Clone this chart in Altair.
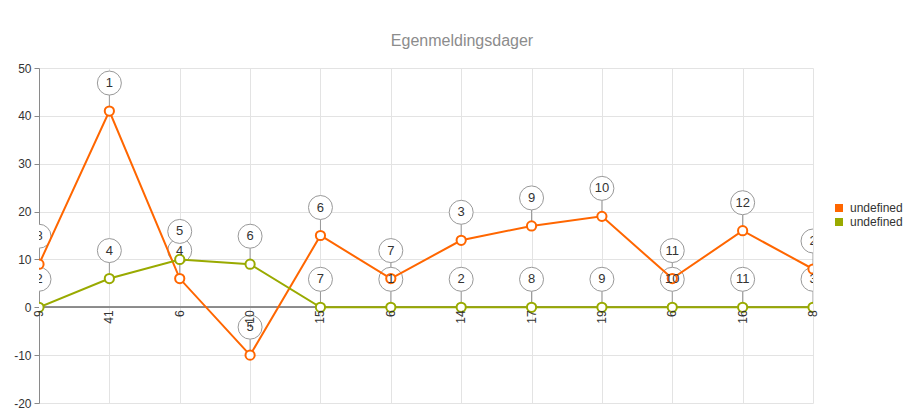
import altair as alt
import pandas as pd

categories = ["9", "41", "6", "-10", "15", "6", "14", "17", "19", "6", "16", "8"]
orange_values = [9, 41, 6, -10, 15, 6, 14, 17, 19, 6, 16, 8]
green_values = [0, 6, 10, 9, 0, 0, 0, 0, 0, 0, 0, 0]
orange_labels = [8, 1, 4, 5, 6, 7, 3, 9, 10, 11, 12, 2]
green_labels = [2, 4, 5, 6, 7, 1, 2, 8, 9, 10, 11, 3]
series_names = ["A", "B"]
legend_names = ["undefined", "undefined\u200b"]
series_colors = ["#ff6600", "#99aa00"]

rows = []
for i, c in enumerate(categories):
    rows.append({"idx": i, "cat": c, "value": orange_values[i], "label": str(orange_labels[i]),
                 "series": series_names[0], "leg": legend_names[0]})
for i, c in enumerate(categories):
    rows.append({"idx": i, "cat": c, "value": green_values[i], "label": str(green_labels[i]),
                 "series": series_names[1], "leg": legend_names[1]})
df = pd.DataFrame(rows)
cat_df = pd.DataFrame({"idx": list(range(len(categories))), "cat": categories})

FONT = "Liberation Sans"

x_enc = alt.X("idx:Q", scale=alt.Scale(domain=[0, len(categories) - 1], nice=False, zero=False),
              axis=alt.Axis(values=list(range(len(categories))), grid=True, labels=False, ticks=False,
                            domain=False, title=None, gridColor="#e3e3e3"))
y_enc = alt.Y("value:Q", scale=alt.Scale(domain=[-20, 50], nice=False),
              axis=alt.Axis(values=list(range(-20, 51, 10)), grid=True, gridColor="#e3e3e3",
                            domainColor="#8a8a8a", tickColor="#8a8a8a", tickSize=5,
                            labelFontSize=12, labelColor="#333333", labelPadding=3,
                            labelFont=FONT, title=None, labelExpr="'' + datum.value"))
stroke_scale = alt.Scale(domain=series_names, range=series_colors)

base = alt.Chart(df)

connectors = base.mark_rule(color="#999999", strokeWidth=1, yOffset=-5, y2Offset=-16, clip=True).encode(
    x=x_enc, y=y_enc, y2="value:Q")
circles = base.mark_point(shape="circle", size=576, stroke="#999999", strokeWidth=1, fill="white",
                          filled=False, opacity=1, yOffset=-28, clip=True).encode(x=x_enc, y=y_enc)
lines = base.mark_line(strokeWidth=2, clip=True).encode(
    x=x_enc, y=y_enc, stroke=alt.Stroke("series:N", scale=stroke_scale, legend=None), detail="series:N")
points = base.mark_point(shape="circle", size=85, fill="white", filled=False, strokeWidth=2,
                         opacity=1, clip=True).encode(
    x=x_enc, y=y_enc, stroke=alt.Stroke("series:N", scale=stroke_scale, legend=None))
texts = base.mark_text(fontSize=13, color="#333333", baseline="middle", align="center",
                       yOffset=-28, font=FONT, clip=True).encode(x=x_enc, y=y_enc, text="label:N")
legend_layer = base.transform_filter("datum.idx < 0").mark_square(size=64, opacity=1, filled=True).encode(
    x=x_enc, y=y_enc,
    fill=alt.Fill("leg:N", scale=alt.Scale(domain=legend_names, range=series_colors),
                  legend=alt.Legend(title=None, orient="none", legendX=794, legendY=134,
                                    symbolType="square", symbolSize=64, symbolStrokeWidth=0,
                                    labelFontSize=12, labelColor="#333333",
                                    labelFont=FONT, labelOffset=5, rowPadding=2)))
zero_rule = alt.Chart(cat_df).mark_rule(color="#8a8a8a", strokeWidth=1).encode(y=alt.datum(0))
cat_labels = alt.Chart(cat_df).mark_text(angle=270, align="right", baseline="middle", fontSize=12,
                                         color="#333333", font=FONT, yOffset=3).encode(
    x=x_enc, y=alt.datum(0), text="cat:N")

chart = alt.layer(
    zero_rule, connectors, circles, lines, points, legend_layer, texts, cat_labels
).properties(
    width=774, height=335,
    title=alt.Title("Egenmeldingsdager", fontSize=16, color="#8c8c8c", font=FONT, fontWeight="normal",
                    anchor="middle", dx=36, offset=0, baseline="alphabetic"),
    autosize=alt.AutoSizeParams(type="none"),
    padding={"left": 31, "top": 60, "right": 96, "bottom": 8},
).configure_view(strokeWidth=0)

chart.save("out.html", embed_options={"renderer": "svg", "actions": False})
